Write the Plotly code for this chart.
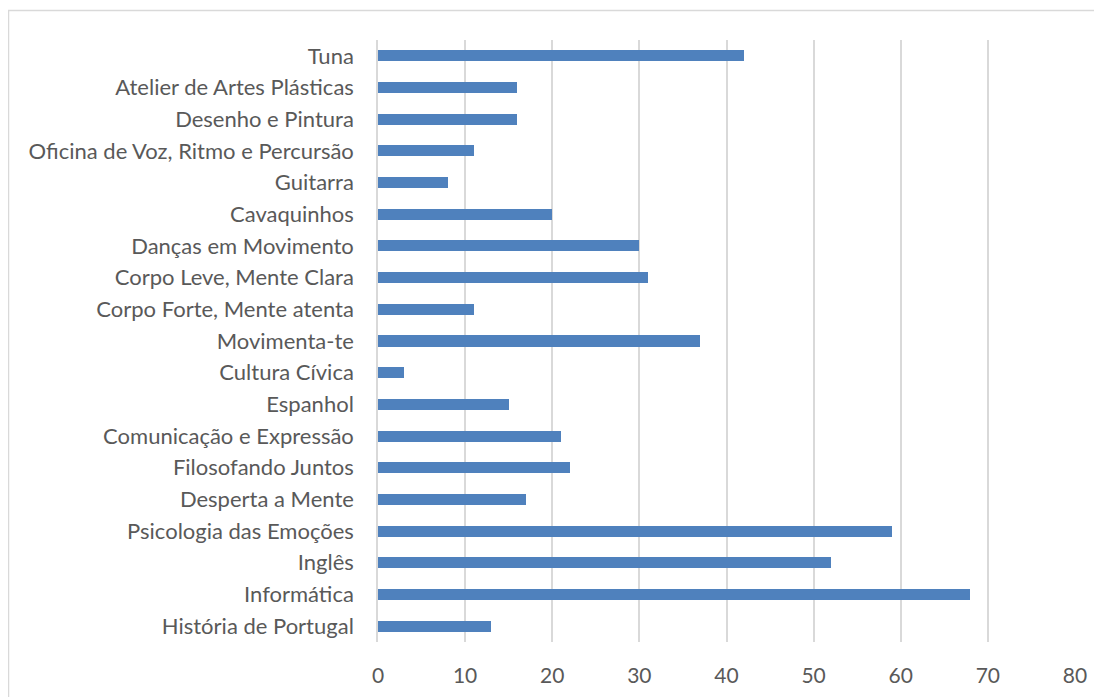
import plotly.graph_objects as go

categories = [
    "História de Portugal", "Informática", "Inglês", "Psicologia das Emoções",
    "Desperta a Mente", "Filosofando Juntos", "Comunicação e Expressão",
    "Espanhol", "Cultura Cívica", "Movimenta-te", "Corpo Forte, Mente atenta",
    "Corpo Leve, Mente Clara", "Danças em Movimento", "Cavaquinhos", "Guitarra",
    "Oficina de Voz, Ritmo e Percursão", "Desenho e Pintura",
    "Atelier de Artes Plásticas", "Tuna",
]
values = [13, 68, 52, 59, 17, 22, 21, 15, 3, 37, 11, 31, 30, 20, 8, 11, 16, 16, 42]
x_ticks = [0, 10, 20, 30, 40, 50, 60, 70, 80]

# page body has an 8px margin; compensate in the figure margins
W, H = 1102, 697
ml, mr, mt, mb = 370, 35, 32, 63
pw, ph = W - ml - mr, H - mt - mb

fig = go.Figure(go.Bar(
    y=categories, x=values, orientation="h",
    marker=dict(color="#4f81bd", line=dict(width=0)),
    width=0.35,
))

font_family = "Lato, 'Open Sans', sans-serif"
fig.update_layout(
    width=W, height=H,
    margin=dict(l=ml, r=mr, t=mt, b=mb, pad=0),
    paper_bgcolor="white", plot_bgcolor="white",
    showlegend=False,
    font=dict(family=font_family, size=22, color="#595959"),
    bargap=0,
    xaxis=dict(
        range=[0, 80], tickvals=x_ticks, ticktext=[str(t) for t in x_ticks],
        showgrid=True, gridcolor="#d9d9d9", gridwidth=1.5,
        zeroline=False, showline=False, ticks="",
        ticklabelstandoff=19,
        tickfont=dict(size=21, color="#595959"),
        fixedrange=True,
    ),
    yaxis=dict(
        showgrid=False, zeroline=False,
        showline=True, linecolor="#d9d9d9", linewidth=1.5,
        ticks="", ticklabelstandoff=18,
        tickfont=dict(size=22, color="#595959"),
        range=[-0.5, len(categories) - 0.5],
        fixedrange=True,
    ),
)

# outer chart border (cropped on right and bottom)
x0 = (0.5 - ml) / pw
y1 = 1 + (mt - 2.5) / ph
fig.add_shape(type="rect", xref="paper", yref="paper",
              x0=x0, x1=1.2, y0=-0.3, y1=y1,
              line=dict(color="#d9d9d9", width=1.5), fillcolor="rgba(0,0,0,0)",
              layer="below")

fig.write_html("out.html")
